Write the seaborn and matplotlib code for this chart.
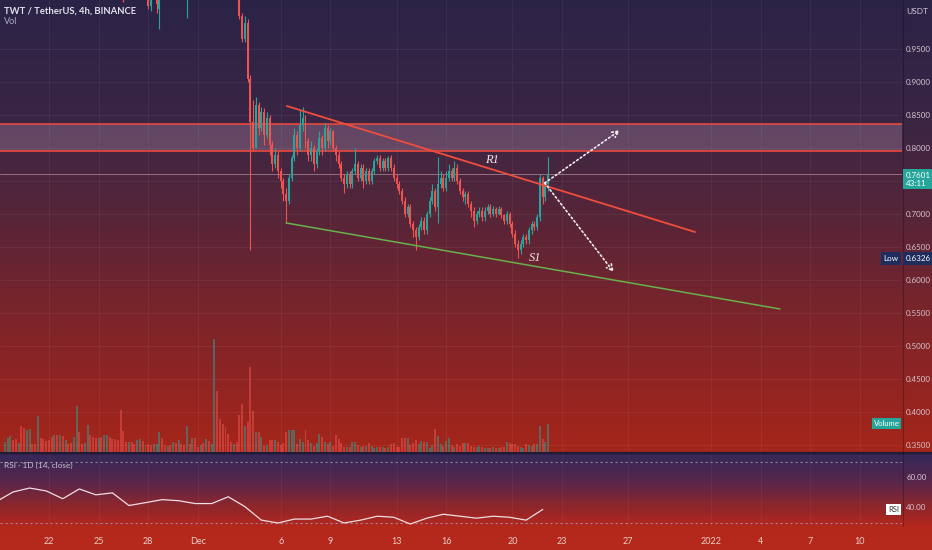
import numpy as np
import pandas as pd
import seaborn as sns
import matplotlib.pyplot as plt
import matplotlib.dates as mdates
from matplotlib.ticker import FuncFormatter

# --- TWT/USDT 4h candles, first bar 2021-12-03 00:00 ---
first_open = 1.08
close = [1.07, 1.075, 1.045, 1.00, 0.965, 0.99, 0.905, 0.84, 0.80, 0.865,
         0.83, 0.855, 0.82, 0.845, 0.805, 0.775, 0.79, 0.765, 0.75, 0.73,
         0.72, 0.755, 0.785, 0.82, 0.80, 0.835, 0.845, 0.81, 0.79, 0.80,
         0.775, 0.795, 0.815, 0.80, 0.83, 0.81, 0.825, 0.80, 0.79, 0.775,
         0.755, 0.745, 0.76, 0.745, 0.765, 0.775, 0.755, 0.77, 0.75, 0.765,
         0.75, 0.765, 0.78, 0.785, 0.77, 0.78, 0.77, 0.785, 0.77, 0.755,
         0.745, 0.735, 0.72, 0.70, 0.71, 0.685, 0.675, 0.665, 0.68, 0.69,
         0.675, 0.70, 0.72, 0.735, 0.71, 0.745, 0.755, 0.74, 0.755, 0.765,
         0.755, 0.77, 0.75, 0.735, 0.725, 0.73, 0.715, 0.705, 0.69, 0.70,
         0.705, 0.695, 0.705, 0.71, 0.70, 0.708, 0.70, 0.708, 0.698, 0.69,
         0.70, 0.685, 0.67, 0.655, 0.645, 0.655, 0.665, 0.66, 0.675, 0.685,
         0.68, 0.695, 0.755, 0.725, 0.745, 0.7601]
high = [1.09, 1.085, 1.08, 1.05, 1.005, 1.0, 0.995, 0.91, 0.873, 0.878,
        0.87, 0.862, 0.86, 0.855, 0.85, 0.81, 0.80, 0.795, 0.77, 0.755,
        0.74, 0.76, 0.79, 0.83, 0.825, 0.857, 0.862, 0.85, 0.815, 0.81,
        0.805, 0.80, 0.825, 0.82, 0.838, 0.835, 0.83, 0.828, 0.805, 0.795,
        0.78, 0.76, 0.765, 0.765, 0.77, 0.80, 0.78, 0.775, 0.775, 0.77,
        0.77, 0.77, 0.785, 0.79, 0.79, 0.785, 0.785, 0.788, 0.79, 0.775,
        0.76, 0.75, 0.74, 0.725, 0.715, 0.715, 0.69, 0.68, 0.685, 0.695,
        0.695, 0.705, 0.725, 0.745, 0.74, 0.786, 0.765, 0.76, 0.765, 0.775,
        0.77, 0.78, 0.775, 0.755, 0.74, 0.735, 0.735, 0.72, 0.71, 0.705,
        0.71, 0.71, 0.71, 0.715, 0.715, 0.712, 0.71, 0.712, 0.71, 0.70,
        0.705, 0.703, 0.69, 0.675, 0.66, 0.66, 0.67, 0.67, 0.68, 0.69,
        0.69, 0.70, 0.76, 0.757, 0.75, 0.786]
low = [1.06, 1.06, 1.035, 0.995, 0.96, 0.96, 0.90, 0.645, 0.795, 0.80,
       0.82, 0.825, 0.805, 0.815, 0.79, 0.765, 0.77, 0.755, 0.74, 0.72,
       0.686, 0.715, 0.75, 0.78, 0.79, 0.795, 0.825, 0.80, 0.78, 0.78,
       0.765, 0.77, 0.79, 0.79, 0.795, 0.80, 0.805, 0.795, 0.78, 0.77,
       0.75, 0.732, 0.74, 0.74, 0.74, 0.76, 0.75, 0.75, 0.74, 0.745,
       0.745, 0.745, 0.76, 0.775, 0.765, 0.765, 0.765, 0.765, 0.765, 0.75,
       0.74, 0.73, 0.715, 0.695, 0.695, 0.68, 0.665, 0.645, 0.66, 0.675,
       0.67, 0.67, 0.695, 0.715, 0.705, 0.686, 0.74, 0.735, 0.735, 0.75,
       0.75, 0.75, 0.745, 0.73, 0.72, 0.715, 0.71, 0.695, 0.68, 0.685,
       0.695, 0.69, 0.69, 0.70, 0.695, 0.697, 0.695, 0.698, 0.694, 0.685,
       0.685, 0.68, 0.665, 0.65, 0.6326, 0.64, 0.65, 0.655, 0.655, 0.67,
       0.675, 0.675, 0.69, 0.715, 0.72, 0.735]

# earlier bars, only their wicks reach below the top edge
early_times = ['2021-11-26 12:00', '2021-11-28 00:00', '2021-11-28 04:00',
               '2021-11-28 12:00', '2021-11-28 16:00', '2021-11-30 08:00']
early_open = [1.06, 1.05, 1.015, 1.04, 1.01, 1.04]
early_close = [1.04, 1.015, 1.03, 1.018, 1.04, 1.05]
early_high = [1.08, 1.06, 1.04, 1.05, 1.05, 1.06]
early_low = [1.021, 1.01, 1.008, 1.005, 0.98, 0.997]

# volume per 4h bar (K), last bar 2021-12-22 04:00
vol_early = [10, 14, 16, 12, 13, 9, 26, 24, 22, 23,
             8, 8, 36, 14, 13, 11, 12, 15, 17, 17,
             17, 16, 12, 8, 9, 15, 46, 20, 8, 9,
             27, 17, 15, 14, 14, 15, 17, 17, 15, 13,
             13, 12, 42, 21, 10, 10, 10, 8, 12, 13,
             11, 7, 8, 7, 8, 8, 20, 14, 7, 6,
             7, 10, 9, 12, 8, 7, 26, 8, 14, 14,
             5, 7, 9, 13, 11, 8, 112, 60, 33, 28,
             25, 18]
dir_early = ("uuuddudduu" "ddudddddud" "ududduuddu" "uddduduudd" "dddddudduu"
             "dudduuuddu" "dududdudud" "dududuuddd" "dd")
vol = [10, 8, 10, 37, 48, 26, 30, 84, 41, 20,
       20, 15, 6, 7, 12, 12, 12, 10, 7, 9,
       20, 22, 22, 22, 8, 13, 10, 22, 12, 9,
       6, 9, 18, 15, 10, 8, 10, 6, 17, 13,
       9, 5, 5, 5, 10, 10, 7, 5, 6, 6,
       9, 6, 4, 5, 5, 5, 4, 5, 8, 9,
       5, 5, 14, 14, 14, 7, 9, 12, 8, 11,
       10, 10, 4, 7, 23, 16, 8, 6, 11, 14,
       7, 5, 8, 6, 9, 9, 9, 6, 5, 5,
       6, 5, 4, 4, 4, 5, 4, 4, 5, 5,
       10, 9, 8, 8, 6, 5, 4, 8, 7, 6,
       8, 8, 26, 13, 10, 28]

# daily RSI(14), 2021-11-19 .. 2021-12-22
rsi_vals = [44.0, 50.3, 52.9, 51.0, 45.8, 52.3, 48.4, 49.7, 41.3, 43.2,
            45.2, 44.5, 42.6, 42.6, 47.1, 40.6, 31.6, 29.7, 32.3, 32.3,
            34.2, 29.7, 31.6, 34.2, 33.5, 29.0, 32.9, 35.5, 34.2, 32.9,
            34.2, 33.5, 31.6, 38.7]

# drawings on the chart
zone = [0.7955, 0.8364]
r1_times = ['2021-12-06 09:00', '2021-12-31 01:00']
r1_prices = [0.8636, 0.6727]
s1_times = ['2021-12-06 08:00', '2022-01-05 04:00']
s1_prices = [0.6864, 0.5561]
arrow_from = ('2021-12-21 23:00', 0.747)
arrow_up = ('2021-12-26 12:00', 0.827)
arrow_down = ('2021-12-26 03:00', 0.612)
r1_label = ('2021-12-18 18:00', 0.782)
s1_label = ('2021-12-21 08:30', 0.633)

tick_dates = ['2021-11-22', '2021-11-25', '2021-11-28', '2021-12-01', '2021-12-06',
              '2021-12-09', '2021-12-13', '2021-12-16', '2021-12-20', '2021-12-23',
              '2021-12-27', '2022-01-01', '2022-01-04', '2022-01-07', '2022-01-10']
tick_labels = ['22', '25', '28', 'Dec', '6', '9', '13', '16', '20', '23',
               '27', '2022', '4', '7', '10']
price_ticks = [0.35, 0.40, 0.45, 0.50, 0.55, 0.60, 0.65, 0.70, 0.75, 0.80, 0.85, 0.90, 0.95]
hidden_tick = 0.75   # covered by the last-price tag

UP, DOWN = '#26a69a', '#ef5350'


def num(s):
    return mdates.date2num(pd.to_datetime(s))


sns.set_theme(style='dark')
plt.rcParams['font.family'] = ['Lato', 'DejaVu Sans']

fig = plt.figure(figsize=(9.32, 5.5), dpi=100)

# background: purple-to-red gradient, one band per pane
bg = fig.add_axes([0, 0, 1, 1])
bg.set_xlim(0, 932)
bg.set_ylim(550, 0)
bg.axis('off')
sy = [0, 120, 220, 320, 400, 451, 452, 455, 480, 505, 526, 550]
sc = np.array([(43, 35, 71), (58, 37, 68), (88, 37, 56), (125, 36, 42), (150, 36, 32),
               (165, 38, 26), (36, 27, 52), (55, 40, 88), (85, 38, 75), (140, 38, 45),
               (180, 40, 28), (182, 42, 28)]) / 255
yy = np.arange(550)
grad = np.stack([np.interp(yy, sy, sc[:, k]) for k in range(3)], axis=1)[:, None, :]
bg.imshow(grad, aspect='auto', extent=(0, 932, 550, 0), zorder=0)
bg.plot([0, 932], [452.5, 452.5], color='#231a38', lw=1.6, zorder=1)
bg.plot([902.5, 902.5], [0, 526], color=(0, 0, 0, 0.25), lw=0.8, zorder=1)

xlim = (num('2021-11-19 01:00'), num('2022-01-12 13:00'))

# ---- price pane ----
ax = fig.add_axes([0, 1 - 452 / 550, 902 / 932, 452 / 550])
vax = ax.twinx()
ax.set_zorder(vax.get_zorder() + 1)
ax.patch.set_visible(False)
vax.patch.set_visible(False)

# volume
vt = mdates.date2num(pd.date_range(end='2021-12-22 04:00', periods=len(vol_early) + len(vol), freq='4h'))
opens = np.array([first_open] + close[:-1])
closes = np.array(close)
vdir = [c == 'u' for c in dir_early] + list(closes >= opens)
vcols = [UP if u else DOWN for u in vdir]
vax.bar(vt, vol_early + vol, width=0.12, color=vcols, alpha=0.5, linewidth=0)
vax.set_ylim(0, 4.0 * max(vol_early + vol))
vax.set_yticks([])

# candles
t = mdates.date2num(pd.date_range('2021-12-03 00:00', periods=len(close), freq='4h'))
ccols = [UP if c >= o else DOWN for o, c in zip(opens, closes)]
ax.vlines(t, low, high, colors=ccols, lw=0.8, zorder=4)
body = np.maximum(np.abs(closes - opens), 0.002)
ax.bar(t, body, bottom=np.minimum(opens, closes), width=0.12, color=ccols, linewidth=0, zorder=5)
et = num(early_times)
ecols = [UP if c >= o else DOWN for o, c in zip(early_open, early_close)]
ax.vlines(et, early_low, early_high, colors=ecols, lw=0.8, zorder=4)
ax.bar(et, np.abs(np.array(early_close) - np.array(early_open)),
       bottom=np.minimum(early_open, early_close), width=0.12, color=ecols, linewidth=0, zorder=5)

# resistance zone
ax.axhspan(zone[0], zone[1], color='#d0a8c8', alpha=0.26, lw=0, zorder=2)
for z in zone:
    ax.axhline(z, color='#e8483c', lw=1.2, zorder=3)

# last price line
ax.axhline(close[-1], color='#c8a0b0', lw=0.6, alpha=0.7, zorder=3)

# trend lines
sns.lineplot(x=num(r1_times), y=r1_prices, ax=ax, color='#f04d3c', lw=1.3, zorder=6)
sns.lineplot(x=num(s1_times), y=s1_prices, ax=ax, color='#6ab04c', lw=1.1, zorder=6)
ax.text(num(r1_label[0]), r1_label[1], 'R1', family='Liberation Serif', style='italic',
        fontsize=9, color='#f0e6ea', ha='center', va='center', zorder=7)
ax.text(num(s1_label[0]), s1_label[1], 'S1', family='Liberation Serif', style='italic',
        fontsize=9, color='#f0e6ea', ha='center', va='center', zorder=7)

for end in (arrow_up, arrow_down):
    ax.annotate('', xy=(num(end[0]), end[1]), xytext=(num(arrow_from[0]), arrow_from[1]),
                arrowprops=dict(arrowstyle='->', color='#f4eef0', lw=1.2,
                                linestyle=(0, (1, 1.6)), shrinkA=0, shrinkB=0,
                                mutation_scale=11), zorder=8)

ax.set_xlim(xlim)
ax.set_ylim(0.33939, 1.02424)
ax.set_xticks(num(tick_dates))
ax.set_yticks(price_ticks)
ax.yaxis.set_major_formatter(FuncFormatter(
    lambda v, p: '' if abs(v - hidden_tick) < 1e-6 else f'{v:.4f}'))
ax.grid(True, color='white', alpha=0.06, lw=0.6)
ax.tick_params(axis='x', length=0, labelbottom=False)
ax.tick_params(axis='y', length=0, pad=2.5, labelsize=5.8, labelcolor='#d6c5cf',
               left=False, labelleft=False, right=True, labelright=True)
ax.set_xlabel('')
ax.set_ylabel('')

tag = dict(fontsize=5.8, color='white', ha='left', va='center',
           xycoords=('axes fraction', 'data'), textcoords='offset points', annotation_clip=False)
ax.annotate(f'{close[-1]:.4f}\n43:11', xy=(1, close[-1]), xytext=(2.5, -3.5), linespacing=1.15,
            bbox=dict(boxstyle='square,pad=0.35', fc=UP, ec='none'), zorder=10, **tag)
ax.annotate(f'{min(low):.4f}', xy=(1, min(low)), xytext=(2.5, 0),
            bbox=dict(boxstyle='square,pad=0.35', fc='#1e2d5e', ec='none'), zorder=10, **tag)
tag['ha'] = 'right'
ax.annotate('Low', xy=(1, min(low)), xytext=(-2.5, 0),
            bbox=dict(boxstyle='square,pad=0.35', fc='#1e2d5e', ec='none'), zorder=10, **tag)
vax.annotate('Volume', xy=(1, vol[-1]), xytext=(-2, 0), fontsize=5.5, color='white', ha='right', va='center',
             xycoords=('axes fraction', 'data'), textcoords='offset points',
             bbox=dict(boxstyle='square,pad=0.25', fc=UP, ec='none'))

for a in (ax, vax):
    for s in a.spines.values():
        s.set_visible(False)

# ---- RSI pane ----
rax = fig.add_axes([0, 24 / 550, 902 / 932, 72 / 550])
rax.patch.set_visible(False)
rt = mdates.date2num(pd.date_range('2021-11-18 20:00', periods=len(rsi_vals), freq='D'))
for lvl in (70, 30):
    rax.axhline(lvl, color='#a898b8', lw=0.8, ls=(0, (2, 2.5)), alpha=0.8)
sns.lineplot(x=rt, y=rsi_vals, ax=rax, color='#f2dce4', lw=0.9)
rax.set_xlim(xlim)
rax.set_ylim(27.7, 75.5)
rax.set_yticks([40, 60])
rax.yaxis.set_major_formatter(FuncFormatter(lambda v, p: f'{v:.2f}'))
rax.set_xticks(num(tick_dates))
rax.set_xticklabels(tick_labels)
rax.grid(True, axis='x', color='white', alpha=0.05, lw=0.6)
rax.tick_params(axis='x', length=0, pad=8, labelsize=6.5, labelcolor='#e6cfc6')
rax.tick_params(axis='y', length=0, pad=3, labelsize=5.8, labelcolor='#d6c5cf',
                left=False, labelleft=False, right=True, labelright=True)
rax.set_xlabel('')
rax.set_ylabel('')
for s in rax.spines.values():
    s.set_visible(False)
rax.annotate('RSI', xy=(1, rsi_vals[-1]), xytext=(-2, 0), fontsize=5.5, color='#333333',
             ha='right', va='center', xycoords=('axes fraction', 'data'), textcoords='offset points',
             bbox=dict(boxstyle='square,pad=0.25', fc='white', ec='none'))

# header texts
fig.text(4 / 932, 1 - 11 / 550, 'TWT / TetherUS, 4h, BINANCE', fontsize=6.8,
         color='#e4e0ea', weight='bold', va='center')
fig.text(4 / 932, 1 - 22 / 550, 'Vol', fontsize=6.5, color='#b4aec4', va='center')
fig.text(4 / 932, 1 - 465 / 550, 'RSI · 1D (14, close)', fontsize=6, color='#c8c0d0', va='center')
fig.text(917 / 932, 1 - 11 / 550, 'USDT', fontsize=6, color='#d0c8d8', ha='center', va='center')

fig.savefig('out.png', dpi=100)
